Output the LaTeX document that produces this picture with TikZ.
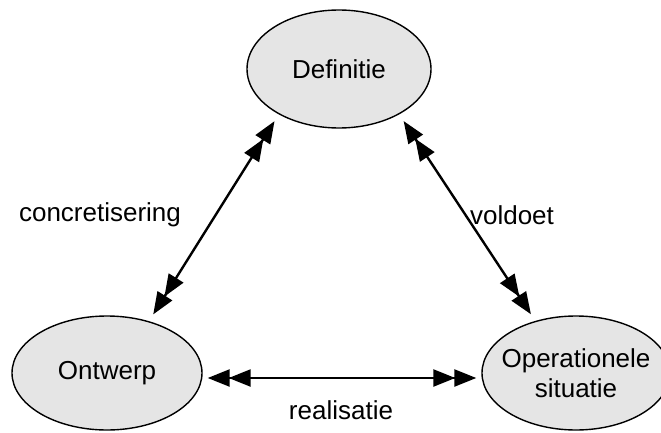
\documentclass[tikz,border=0pt]{standalone}
\usepackage{fontspec}
\setmainfont{Liberation Sans}
\usetikzlibrary{arrows.meta, shapes.geometric}
\colorlet{mygray}{black!10}

\tikzset{
    dbl/.tip={Triangle[length=22pt, width=17pt, sep=-1pt] Triangle[length=22pt, width=17pt, sep=-1pt]},
    blob/.style={ellipse, draw, line width=1.4pt, fill=mygray, inner xsep=-10pt, inner ysep=0pt, align=center},
    txt/.style={font=\fontsize{26}{30}\selectfont},
    link/.style={line width=2.4pt, dbl-dbl, shorten <=9pt, shorten >=9pt}
}

\begin{document}
\begin{tikzpicture}[x=1pt, y=1pt]

    \useasboundingbox (0, 0) rectangle (661, 432);

    \node[blob, txt, minimum width=184pt, minimum height=118pt] (def) at (339, 363) {Definitie};
    \node[blob, txt, minimum width=190pt, minimum height=114pt] (ont) at (107, 59) {Ontwerp};
    \node[blob, txt, minimum width=188pt, minimum height=114pt] (ops) at (576, 59) {Operationele\\situatie};

    \draw[link] (def.217) -- (ont.51);
    \draw[link] (def.323) -- (ops.128);
    \draw[link, shorten <=6pt, shorten >=6pt] ([yshift=-5pt]ont.east) -- ([yshift=-5pt]ops.west);

    \node[txt] (conc) at (100, 217) {concretisering};
    \node[txt] (vold) at (512, 217) {voldoet};
    \node[txt] (real) at (341, 22) {realisatie};

\end{tikzpicture}
\end{document}
